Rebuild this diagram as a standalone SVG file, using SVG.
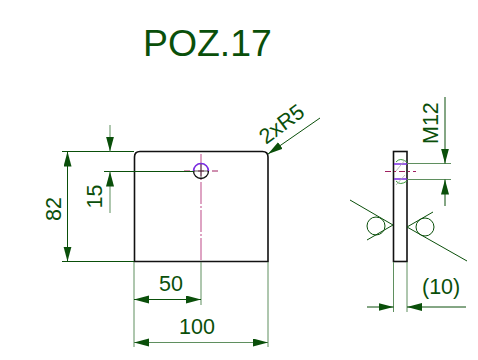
<svg xmlns="http://www.w3.org/2000/svg" width="478" height="360" viewBox="0 0 478 360">
<defs>
<marker id="a" markerUnits="userSpaceOnUse" markerWidth="16" markerHeight="10" refX="15" refY="4" orient="auto-start-reverse"><path d="M0 0L15 4L0 8z" fill="#0a4f0a"/></marker>
</defs>
<style>
text{font-family:"Liberation Sans",Arial,sans-serif;fill:#0a4f0a;font-size:21.500px}
.d{stroke:#0a4f0a;stroke-width:1;fill:none}
.g{stroke:#5f8f5f;stroke-width:1;fill:none}
.o{stroke:#111;stroke-width:1.6;fill:none}
.c{stroke:#c9689c;stroke-width:1.2;fill:none;stroke-dasharray:22 2 2 2}
.k{stroke:#a02060;stroke-width:1;fill:none;stroke-dasharray:6 3 2 3}
</style>
<rect width="478" height="360" fill="#fff"/>
<text id="title" x="143" y="56" style="font-size:37.4px">POZ.17</text>
<g id="front-view">
<path class="o" d="M140 151.500H262.500Q268 151.500 268 157V261.500H134.500V157Q134.500 151.500 140 151.500Z"/>
<path class="c" d="M201 154V261"/>
<path class="k" d="M184 171H218"/>
<path d="M193.500 171A7.500 7.500 0 0 1 208.500 171" fill="none" stroke="#7a2be0" stroke-width="1.600"/>
<path d="M193.500 171A7.500 7.500 0 0 0 208.500 171" fill="none" stroke="#111" stroke-width="1.300"/>
<path d="M201 164V178M194 171H208" stroke="#333" stroke-width=".8"/>
</g>
<g id="side-view">
<rect class="o" x="393.500" y="151.500" width="13.500" height="110"/>
<path d="M394 164H407M394 179H407" stroke="#7a2be0" stroke-width="1.500"/>
<path d="M396 162Q400 157 407 162M396 181Q400 186 407 181" fill="none" stroke="#3a9a3a" stroke-width="1"/>
<path d="M396 171L405 160M396 185L405 175" stroke="#aaa" stroke-width=".8"/>
<path class="k" d="M385 171.500H416"/>
</g>
<g id="connectors">
<path class="d" d="M62 151.500H134M62 261.500H134M104 171.500H194"/>
<path class="d" d="M67.500 151.500V261.500" marker-start="url(#a)" marker-end="url(#a)"/>
<path class="g" d="M110 125V151.500" marker-end="url(#a)"/>
<path class="g" d="M110 213V171.500" marker-end="url(#a)"/>
<path class="g" d="M134 262V347M201 262V305M268 262V347"/>
<path class="d" d="M134 299.500H201" marker-start="url(#a)" marker-end="url(#a)"/>
<path class="g" d="M134 342.500H268" marker-start="url(#a)" marker-end="url(#a)"/>
<path class="d" d="M320 118L268 154" marker-end="url(#a)"/>
<path class="g" d="M407 163.500H451M407 179.500H451"/>
<path class="d" d="M445 97V163.500" marker-end="url(#a)"/>
<path class="d" d="M445 206V179.500" marker-end="url(#a)"/>
<path class="g" d="M393.500 262V312M407 262V312"/>
<path class="d" d="M367 307H393.500" marker-end="url(#a)"/>
<path class="d" d="M466 307H407" marker-end="url(#a)"/>
</g>
<g id="weld-symbols">
<path class="d" d="M350 200L393 225L367 240"/>
<circle class="d" cx="376" cy="226" r="9"/>
<path class="d" d="M433 212L407 227L467 261"/>
<circle class="d" cx="425" cy="227" r="9"/>
</g>
<g id="labels">
<text transform="translate(61 221) rotate(-90)">82</text>
<text transform="translate(102 208.500) rotate(-90)">15</text>
<text x="159" y="291">50</text>
<text x="179" y="334">100</text>
<text transform="translate(266 145) rotate(-37)">2xR5</text>
<text transform="translate(438 144) rotate(-90)">M12</text>
<text x="422" y="294">(10)</text>
</g>
</svg>
